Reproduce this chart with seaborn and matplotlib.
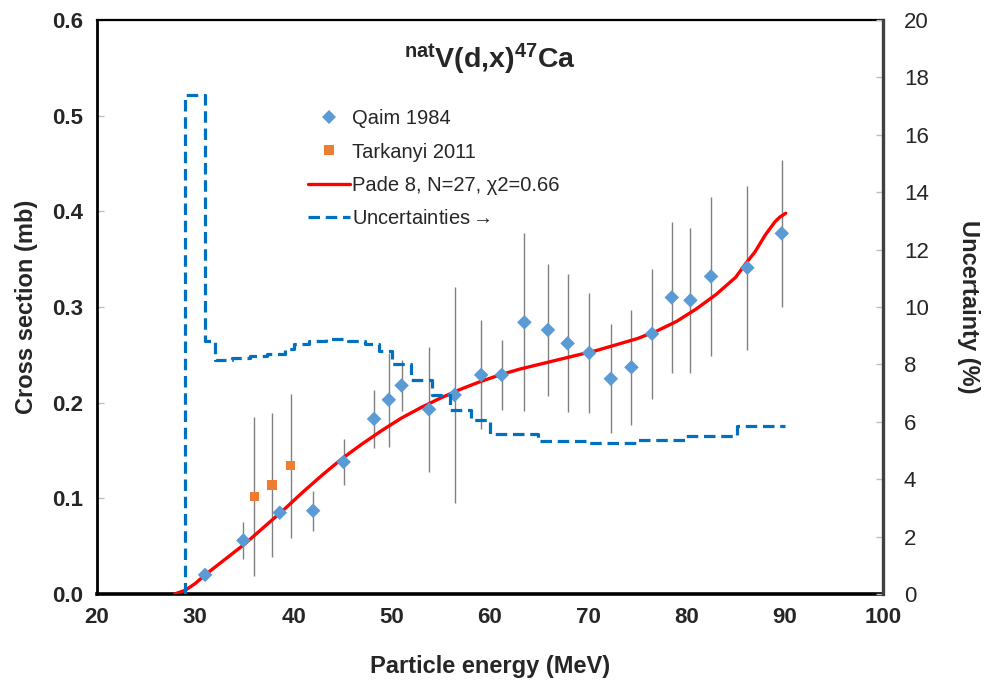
import numpy as np
import pandas as pd
import matplotlib
matplotlib.use("Agg")
import matplotlib.pyplot as plt
import seaborn as sns
from matplotlib.lines import Line2D

# ---------------- data ----------------
qaim_E = [31.0, 34.9, 38.6, 42.0, 45.1, 48.2, 49.7, 51.0, 53.8, 56.4, 59.1, 61.2,
          63.5, 65.9, 67.9, 70.1, 72.3, 74.4, 76.5, 78.5, 80.4, 82.5, 86.2, 89.7]
qaim_xs = [0.020, 0.056, 0.085, 0.087, 0.138, 0.183, 0.203, 0.218, 0.193, 0.208, 0.229, 0.229,
           0.284, 0.276, 0.262, 0.252, 0.225, 0.237, 0.272, 0.310, 0.307, 0.332, 0.341, 0.377]
qaim_err = [0.0, 0.019, 0.0, 0.021, 0.024, 0.030, 0.049, 0.027, 0.065, 0.113, 0.057, 0.037,
            0.093, 0.069, 0.072, 0.063, 0.057, 0.060, 0.068, 0.079, 0.076, 0.083, 0.086, 0.077]

tark_E = [36.0, 37.8, 39.7]
tark_xs = [0.102, 0.114, 0.134]
tark_err = [0.083, 0.075, 0.075]

fit_E = [27.9, 29.0, 30.0, 31.0, 33.0, 35.0, 37.0, 39.0, 41.0, 43.0, 45.0, 47.0, 49.0,
         51.0, 53.0, 55.0, 57.0, 59.0, 61.0, 63.0, 65.0, 67.0, 69.0, 71.0, 73.0, 75.0,
         77.0, 79.0, 81.0, 83.0, 85.0, 86.0, 87.0, 88.0, 89.0, 89.5, 90.1]
fit_xs = [0.0, 0.004, 0.011, 0.020, 0.036, 0.052, 0.070, 0.088, 0.107, 0.125, 0.142, 0.157,
          0.171, 0.184, 0.195, 0.205, 0.214, 0.222, 0.229, 0.235, 0.240, 0.245, 0.250, 0.255,
          0.261, 0.267, 0.275, 0.285, 0.298, 0.313, 0.331, 0.345, 0.358, 0.375, 0.389, 0.394, 0.398]

unc_E = [29.0, 29.0, 31.0, 32.0, 33.7, 35.6, 37.3, 39.1, 40.0, 41.6, 43.3, 45.5, 47.3,
         48.7, 50.0, 52.0, 54.1, 55.9, 58.1, 60.0, 64.9, 70.0, 75.0, 80.0, 85.1, 90.0]
unc_pct = [0.0, 17.4, 8.83, 8.14, 8.22, 8.29, 8.37, 8.55, 8.72, 8.83, 8.89, 8.83, 8.72,
           8.45, 8.02, 7.44, 6.92, 6.42, 6.05, 5.59, 5.33, 5.25, 5.35, 5.50, 5.84, 5.84]

x_ticks = [20, 30, 40, 50, 60, 70, 80, 90, 100]
y_ticks = [0.0, 0.1, 0.2, 0.3, 0.4, 0.5, 0.6]
y2_ticks = [0, 2, 4, 6, 8, 10, 12, 14, 16, 18, 20]

labels = ["Qaim 1984", "Tarkanyi 2011", "Pade 8, N=27, \u03c72=0.66",
          "Uncertainties" + r"$\rightarrow$"]

# ---------------- styling ----------------
sns.set_style("white")
plt.rcParams["font.family"] = ["Liberation Sans", "DejaVu Sans"]
plt.rcParams["mathtext.fontset"] = "custom"
plt.rcParams["mathtext.rm"] = "Liberation Sans"
plt.rcParams["mathtext.bf"] = "Liberation Sans:bold"
plt.rcParams["mathtext.it"] = "Liberation Sans:italic"

C_QAIM = "#5B9BD5"
C_TARK = "#ED7D31"
C_FIT = "#FF0000"
C_UNC = "#0070C0"
C_ERR = "#808080"

fig = plt.figure(figsize=(9.87, 6.83), dpi=100)
ax = fig.add_axes([0.0983, 0.1303, 0.7963, 0.8404])
ax2 = ax.twinx()

# error bars
qa = np.array(qaim_xs); qe = np.array(qaim_err)
ta = np.array(tark_xs); te = np.array(tark_err)
ax.vlines(qaim_E, qa - qe, qa + qe, color=C_ERR, lw=1.0, zorder=2)
ax.vlines(tark_E, ta - te, ta + te, color=C_ERR, lw=1.0, zorder=2)

# fit curve
sns.lineplot(x=fit_E, y=fit_xs, ax=ax, color=C_FIT, lw=2.4, estimator=None,
             sort=False, zorder=3, legend=False)

# data points
sns.scatterplot(x=qaim_E, y=qaim_xs, ax=ax, marker="D", color=C_QAIM, s=55,
                edgecolor="none", zorder=4, legend=False)
sns.scatterplot(x=tark_E, y=tark_xs, ax=ax, marker="s", color=C_TARK, s=45,
                edgecolor="none", zorder=4, legend=False)

# uncertainties (right axis)
sns.lineplot(x=unc_E, y=unc_pct, ax=ax2, color=C_UNC, lw=2.3, estimator=None,
             sort=False, drawstyle="steps-post", linestyle=(0, (3.6, 1.8)),
             legend=False)

# axes limits / ticks
ax.set_xlim(20, 100)
ax.set_ylim(0, 0.6)
ax2.set_ylim(0, 20)
ax.set_xticks(x_ticks)
ax.set_yticks(y_ticks)
ax2.set_yticks(y2_ticks)
ax.set_xticklabels([str(v) for v in x_ticks], fontweight="bold")
ax.set_yticklabels([f"{v:.1f}" for v in y_ticks], fontweight="bold")
ax2.set_yticklabels([str(v) for v in y2_ticks])

ax.tick_params(axis="both", direction="in", length=5, width=1, color="#BFBFBF",
               labelsize=16, pad=9)
ax.tick_params(axis="y", pad=10)
ax2.tick_params(axis="y", direction="in", length=5, width=1, color="#BFBFBF",
                labelsize=16, pad=15)

for name in ["left", "bottom", "top"]:
    ax.spines[name].set_color("black")
ax.spines["left"].set_linewidth(2.0)
ax.spines["bottom"].set_linewidth(2.6)
ax.spines["top"].set_linewidth(1.6)
ax2.spines["right"].set_color("#404040")
ax2.spines["right"].set_linewidth(2.4)
for name in ["left", "bottom", "top"]:
    ax2.spines[name].set_visible(False)
ax.spines["right"].set_visible(False)

ax.set_xlabel("Particle energy (MeV)", fontsize=17, fontweight="bold", labelpad=20)
ax.set_ylabel("Cross section (mb)", fontsize=17, fontweight="bold", labelpad=10)
ax2.set_ylabel("Uncertainty (%)", fontsize=17, fontweight="bold", rotation=270,
               labelpad=37)

# title inside the plot
ax.text(60.0, 0.559, r"$\mathbf{^{nat}V(d{,}x)^{47}Ca}$", fontsize=20.5,
        ha="center", va="center", transform=ax.transData)

# legend
handles = [
    Line2D([], [], linestyle="none", marker="D", color=C_QAIM, markersize=7, markeredgewidth=0),
    Line2D([], [], linestyle="none", marker="s", color=C_TARK, markersize=7, markeredgewidth=0),
    Line2D([], [], color=C_FIT, lw=2.4),
    Line2D([], [], color=C_UNC, lw=2.3, linestyle=(0, (3.6, 1.8))),
]
fig.legend(handles, labels, loc="upper left", bbox_to_anchor=(308 / 987, 1 - 109 / 683),
           frameon=False, fontsize=14.5, handlelength=2.1, handletextpad=0.1,
           labelspacing=0.72, borderpad=0, borderaxespad=0)

fig.savefig("out.png", dpi=100)
